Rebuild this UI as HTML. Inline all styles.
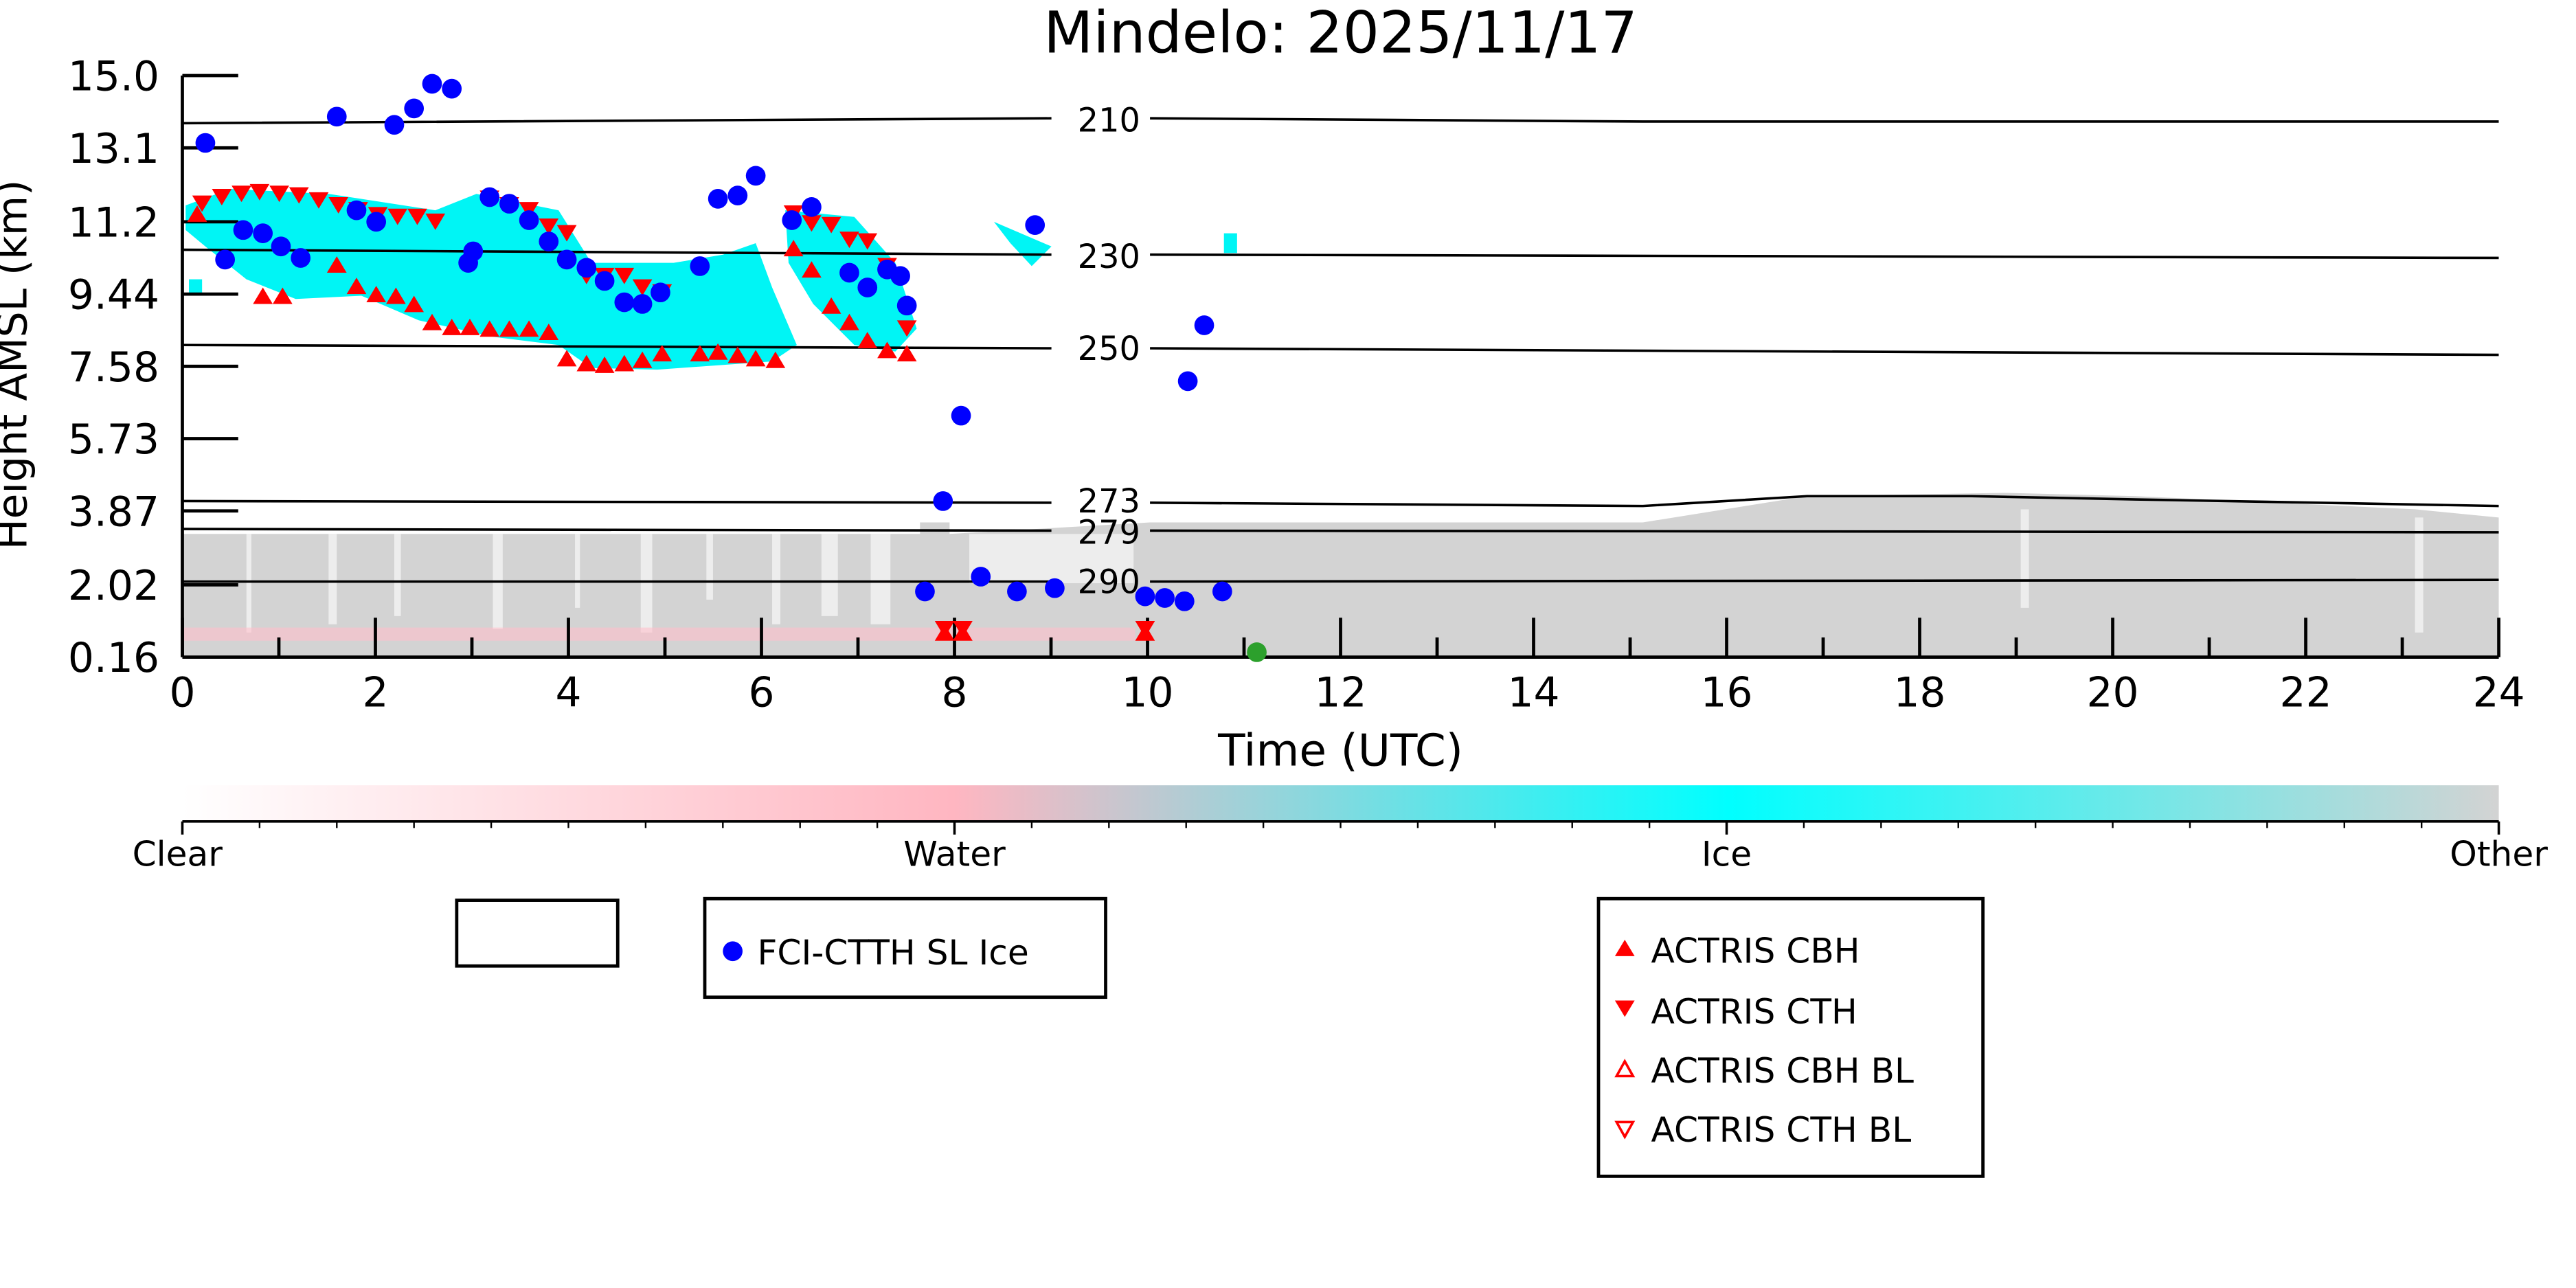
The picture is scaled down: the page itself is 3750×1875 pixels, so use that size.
<!DOCTYPE html>
<html><head><meta charset="utf-8"><style>html,body{margin:0;padding:0;background:#fff}svg{display:block}</style></head>
<body>
<svg xmlns="http://www.w3.org/2000/svg" width="3750" height="1875" viewBox="0 0 1568 784" font-family="DejaVu Sans, Liberation Sans, sans-serif">
<defs>
<linearGradient id="cb" x1="0" x2="1" y1="0" y2="0">
<stop offset="0" stop-color="#ffffff"/>
<stop offset="0.333" stop-color="#ffb6c1"/>
<stop offset="0.667" stop-color="#00ffff"/>
<stop offset="1" stop-color="#d3d3d3"/>
</linearGradient>
<clipPath id="pa"><rect x="111" y="46" width="1410" height="354"/></clipPath>
</defs>
<rect width="1568" height="784" fill="#fff"/>
<text x="816" y="32" font-size="35" text-anchor="middle">Mindelo: 2025/11/17</text>
<g clip-path="url(#pa)">
<path d="M111,400 L111,325 L560,325 L560,318 L578,318 L578,325 L700,318 L1000,318 L1100,302 L1220,300 L1300,302 L1470,310 L1521,315 L1521,400 Z" fill="#d3d3d3"/>
<g fill="#fff" opacity="0.6">
<rect x="150" y="325" width="3" height="60"/><rect x="200" y="325" width="5" height="55"/><rect x="240" y="325" width="4" height="50"/>
<rect x="300" y="325" width="6" height="58"/><rect x="350" y="325" width="3" height="45"/><rect x="390" y="325" width="7" height="60"/>
<rect x="430" y="325" width="4" height="40"/><rect x="470" y="325" width="5" height="55"/><rect x="500" y="325" width="10" height="50"/>
<rect x="530" y="325" width="12" height="55"/><rect x="590" y="325" width="100" height="30"/><rect x="1230" y="310" width="5" height="60"/>
<rect x="1470" y="315" width="5" height="70"/>
</g>
<rect x="111" y="382" width="580" height="8" fill="#ffc0cb" opacity="0.6"/>
<path d="M113,125 L140,115 L200,118 L265,128 L290,118 L340,128 L360,160 L410,160 L440,155 L460,148 L470,175 L485,210 L470,220 L400,225 L360,224 L340,210 L300,205 L255,195 L220,180 L180,182 L150,170 L125,150 L113,140 Z" fill="#00f5f5"/>
<path d="M478,128 L520,132 L545,160 L558,200 L545,214 L520,210 L495,185 L480,160 Z" fill="#00f5f5"/>
<path d="M605,135 L640,150 L628,162 L615,148 Z" fill="#00f5f5"/>
<rect x="745" y="142" width="8" height="12" fill="#00f5f5"/>
<rect x="115" y="170" width="8" height="10" fill="#00f5f5"/>
<g stroke="#000" stroke-width="1.5" fill="none">
<path d="M111,75 L640,72 M700,72 L1000,74 L1521,74"/>
<path d="M111,152 L640,155 M700,155 L1521,157"/>
<path d="M111,210 L640,212 M700,212 L1521,216"/>
<path d="M111,305 L640,306 M700,306 L1000,308 L1100,302 L1200,302 L1300,304 L1521,308"/>
<path d="M111,322 L640,323 M700,323 L1521,324"/>
<path d="M111,354 L640,354 M700,354 L1521,353"/>
</g>
</g>
<g font-size="20" text-anchor="middle">
<text x="675" y="80">210</text><text x="675" y="163">230</text><text x="675" y="219">250</text>
<text x="675" y="312">273</text><text x="675" y="331">279</text><text x="675" y="361">290</text>
</g>
<g stroke="#000" stroke-width="2" fill="none">
<line x1="111" y1="46" x2="111" y2="400"/><line x1="111" y1="400" x2="1521" y2="400"/>
</g>
<g stroke="#000" stroke-width="2">
<line x1="111" y1="46" x2="145" y2="46"/><line x1="111" y1="90" x2="145" y2="90"/><line x1="111" y1="135" x2="145" y2="135"/>
<line x1="111" y1="179" x2="145" y2="179"/><line x1="111" y1="223" x2="145" y2="223"/><line x1="111" y1="267" x2="145" y2="267"/>
<line x1="111" y1="311" x2="145" y2="311"/><line x1="111" y1="356" x2="145" y2="356"/>
</g>
<g stroke="#000" stroke-width="2">
<line x1="111" y1="400" x2="111" y2="376"/><line x1="228.5" y1="400" x2="228.5" y2="376"/><line x1="346" y1="400" x2="346" y2="376"/>
<line x1="463.5" y1="400" x2="463.5" y2="376"/><line x1="581" y1="400" x2="581" y2="376"/><line x1="698.5" y1="400" x2="698.5" y2="376"/>
<line x1="816" y1="400" x2="816" y2="376"/><line x1="933.5" y1="400" x2="933.5" y2="376"/><line x1="1051" y1="400" x2="1051" y2="376"/>
<line x1="1168.5" y1="400" x2="1168.5" y2="376"/><line x1="1286" y1="400" x2="1286" y2="376"/><line x1="1403.5" y1="400" x2="1403.5" y2="376"/>
<line x1="1521" y1="400" x2="1521" y2="376"/>
<line x1="169.75" y1="400" x2="169.75" y2="388"/><line x1="287.25" y1="400" x2="287.25" y2="388"/><line x1="404.75" y1="400" x2="404.75" y2="388"/>
<line x1="522.25" y1="400" x2="522.25" y2="388"/><line x1="639.75" y1="400" x2="639.75" y2="388"/><line x1="757.25" y1="400" x2="757.25" y2="388"/>
<line x1="874.75" y1="400" x2="874.75" y2="388"/><line x1="992.25" y1="400" x2="992.25" y2="388"/><line x1="1109.75" y1="400" x2="1109.75" y2="388"/>
<line x1="1227.25" y1="400" x2="1227.25" y2="388"/><line x1="1344.75" y1="400" x2="1344.75" y2="388"/><line x1="1462.25" y1="400" x2="1462.25" y2="388"/>
</g>
<g font-size="25" text-anchor="end">
<text x="97" y="55">15.0</text><text x="97" y="99">13.1</text><text x="97" y="144">11.2</text><text x="97" y="188">9.44</text>
<text x="97" y="232">7.58</text><text x="97" y="276">5.73</text><text x="97" y="320">3.87</text><text x="97" y="365">2.02</text><text x="97" y="409">0.16</text>
</g>
<g font-size="25" text-anchor="middle">
<text x="111" y="430">0</text><text x="228.5" y="430">2</text><text x="346" y="430">4</text><text x="463.5" y="430">6</text>
<text x="581" y="430">8</text><text x="698.5" y="430">10</text><text x="816" y="430">12</text><text x="933.5" y="430">14</text>
<text x="1051" y="430">16</text><text x="1168.5" y="430">18</text><text x="1286" y="430">20</text><text x="1403.5" y="430">22</text><text x="1521" y="430">24</text>
</g>
<text x="816" y="466" font-size="27" text-anchor="middle">Time (UTC)</text>
<text transform="translate(16,222) rotate(-90)" font-size="25" text-anchor="middle">Height AMSL (km)</text>
<g fill="#f00">
<path d="M120,125 l6,10 h-12z M160,175 l6,10 h-12z M172,175 l6,10 h-12z M205,156 l6,10 h-12z M217,169 l6,10 h-12z M229,174 l6,10 h-12z M241,175 l6,10 h-12z M252,180 l6,10 h-12z M263,191 l6,10 h-12z M275,194 l6,10 h-12z M286,194 l6,10 h-12z M298,195 l6,10 h-12z M310,195 l6,10 h-12z M322,195 l6,10 h-12z M334,197 l6,10 h-12z M345,213 l6,10 h-12z M357,216 l6,10 h-12z M368,217 l6,10 h-12z M380,216 l6,10 h-12z M391,214 l6,10 h-12z M403,210 l6,10 h-12z M426,210 l6,10 h-12z M437,209 l6,10 h-12z M449,211 l6,10 h-12z M460,213 l6,10 h-12z M472,214 l6,10 h-12z M483,146 l6,10 h-12z M494,159 l6,10 h-12z M506,181 l6,10 h-12z M517,191 l6,10 h-12z M528,202 l6,10 h-12z M540,208 l6,10 h-12z M552,210 l6,10 h-12z M575,380 l6,10 h-12z M586,380 l6,10 h-12z M697,380 l6,10 h-12z"/>
<path d="M123,129 l6,-10 h-12z M135,125 l6,-10 h-12z M147,123 l6,-10 h-12z M158,122 l6,-10 h-12z M170,123 l6,-10 h-12z M182,124 l6,-10 h-12z M194,127 l6,-10 h-12z M206,130 l6,-10 h-12z M218,133 l6,-10 h-12z M230,136 l6,-10 h-12z M242,137 l6,-10 h-12z M254,137 l6,-10 h-12z M265,140 l6,-10 h-12z M298,126 l6,-10 h-12z M310,130 l6,-10 h-12z M322,133 l6,-10 h-12z M334,143 l6,-10 h-12z M345,147 l6,-10 h-12z M357,173 l6,-10 h-12z M368,173 l6,-10 h-12z M380,173 l6,-10 h-12z M391,180 l6,-10 h-12z M403,183 l6,-10 h-12z M483,135 l6,-10 h-12z M494,141 l6,-10 h-12z M506,142 l6,-10 h-12z M517,151 l6,-10 h-12z M528,152 l6,-10 h-12z M540,167 l6,-10 h-12z M552,205 l6,-10 h-12z M575,388 l6,-10 h-12z M586,388 l6,-10 h-12z M697,388 l6,-10 h-12z"/>
</g>
<g fill="#0000ff">
<circle cx="125" cy="87" r="6"/><circle cx="137" cy="158" r="6"/><circle cx="148" cy="140" r="6"/><circle cx="160" cy="142" r="6"/>
<circle cx="171" cy="150" r="6"/><circle cx="183" cy="157" r="6"/><circle cx="205" cy="71" r="6"/><circle cx="217" cy="128" r="6"/>
<circle cx="229" cy="135" r="6"/><circle cx="240" cy="76" r="6"/><circle cx="252" cy="66" r="6"/><circle cx="263" cy="51" r="6"/>
<circle cx="275" cy="54" r="6"/><circle cx="285" cy="160" r="6"/><circle cx="288" cy="153" r="6"/><circle cx="298" cy="120" r="6"/>
<circle cx="310" cy="124" r="6"/><circle cx="322" cy="134" r="6"/><circle cx="334" cy="147" r="6"/><circle cx="345" cy="158" r="6"/>
<circle cx="357" cy="163" r="6"/><circle cx="368" cy="171" r="6"/><circle cx="380" cy="184" r="6"/><circle cx="391" cy="185" r="6"/>
<circle cx="402" cy="178" r="6"/><circle cx="426" cy="162" r="6"/><circle cx="437" cy="121" r="6"/><circle cx="449" cy="119" r="6"/>
<circle cx="460" cy="107" r="6"/><circle cx="482" cy="134" r="6"/><circle cx="494" cy="126" r="6"/><circle cx="517" cy="166" r="6"/>
<circle cx="528" cy="175" r="6"/><circle cx="540" cy="164" r="6"/><circle cx="548" cy="168" r="6"/><circle cx="552" cy="186" r="6"/>
<circle cx="574" cy="305" r="6"/><circle cx="585" cy="253" r="6"/><circle cx="563" cy="360" r="6"/><circle cx="597" cy="351" r="6"/>
<circle cx="619" cy="360" r="6"/><circle cx="642" cy="358" r="6"/><circle cx="697" cy="363" r="6"/><circle cx="709" cy="364" r="6"/>
<circle cx="721" cy="366" r="6"/><circle cx="733" cy="198" r="6"/><circle cx="744" cy="360" r="6"/><circle cx="723" cy="232" r="6"/>
<circle cx="630" cy="137" r="6"/>
</g>
<circle cx="765" cy="397" r="6" fill="#2ca02c"/>
<rect x="111" y="478" width="1410" height="22" fill="url(#cb)"/>
<line x1="111" y1="500" x2="1521" y2="500" stroke="#000" stroke-width="1.5"/>
<g stroke="#000" stroke-width="1.5">
<line x1="111" y1="500" x2="111" y2="508"/><line x1="581" y1="500" x2="581" y2="508"/><line x1="1051" y1="500" x2="1051" y2="508"/><line x1="1521" y1="500" x2="1521" y2="508"/>
</g>
<g stroke="#000" stroke-width="1">
<line x1="158" y1="500" x2="158" y2="504"/><line x1="205" y1="500" x2="205" y2="504"/><line x1="252" y1="500" x2="252" y2="504"/><line x1="299" y1="500" x2="299" y2="504"/><line x1="346" y1="500" x2="346" y2="504"/><line x1="393" y1="500" x2="393" y2="504"/><line x1="440" y1="500" x2="440" y2="504"/><line x1="487" y1="500" x2="487" y2="504"/><line x1="534" y1="500" x2="534" y2="504"/>
<line x1="628" y1="500" x2="628" y2="504"/><line x1="675" y1="500" x2="675" y2="504"/><line x1="722" y1="500" x2="722" y2="504"/><line x1="769" y1="500" x2="769" y2="504"/><line x1="816" y1="500" x2="816" y2="504"/><line x1="863" y1="500" x2="863" y2="504"/><line x1="910" y1="500" x2="910" y2="504"/><line x1="957" y1="500" x2="957" y2="504"/><line x1="1004" y1="500" x2="1004" y2="504"/>
<line x1="1098" y1="500" x2="1098" y2="504"/><line x1="1145" y1="500" x2="1145" y2="504"/><line x1="1192" y1="500" x2="1192" y2="504"/><line x1="1239" y1="500" x2="1239" y2="504"/><line x1="1286" y1="500" x2="1286" y2="504"/><line x1="1333" y1="500" x2="1333" y2="504"/><line x1="1380" y1="500" x2="1380" y2="504"/><line x1="1427" y1="500" x2="1427" y2="504"/><line x1="1474" y1="500" x2="1474" y2="504"/>
</g>
<g font-size="21" text-anchor="middle">
<text x="108" y="527">Clear</text><text x="581" y="527">Water</text><text x="1051" y="527">Ice</text><text x="1521" y="527">Other</text>
</g>
<rect x="278" y="548" width="98" height="40" fill="#fff" stroke="#000" stroke-width="2"/>
<rect x="429" y="547" width="244" height="60" fill="#fff" stroke="#000" stroke-width="2"/>
<circle cx="446" cy="579" r="6" fill="#0000ff"/>
<text x="461" y="587" font-size="21">FCI-CTTH SL Ice</text>
<rect x="973" y="547" width="234" height="169" fill="#fff" stroke="#000" stroke-width="2"/>
<g font-size="21">
<path d="M989,572 l6,10 h-12z" fill="#f00"/><text x="1005" y="586">ACTRIS CBH</text>
<path d="M989,619 l6,-10 h-12z" fill="#f00"/><text x="1005" y="623">ACTRIS CTH</text>
<path d="M989,646 l5,9 h-10z" fill="none" stroke="#f00" stroke-width="1.5"/><text x="1005" y="659">ACTRIS CBH BL</text>
<path d="M989,692 l5,-9 h-10z" fill="none" stroke="#f00" stroke-width="1.5"/><text x="1005" y="695">ACTRIS CTH BL</text>
</g>
</svg>
</body></html>
